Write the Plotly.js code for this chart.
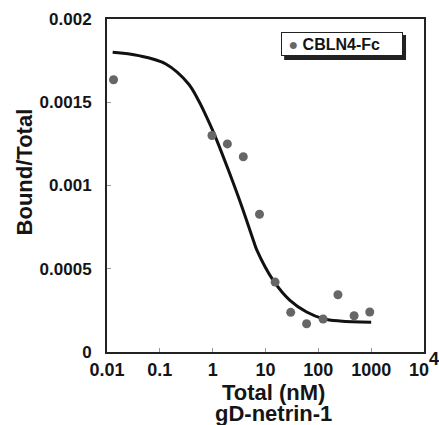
<!DOCTYPE html>
<html>
<head>
<meta charset="utf-8">
<script src="https://cdn.plot.ly/plotly-3.0.1.min.js"></script>
<style>
html,body{margin:0;padding:0;background:#fff;}
#chart{width:439px;height:425px;}
#chart .xtick tspan{font-size:100% !important;}
</style>
</head>
<body>
<div id="chart"></div>
<script>
// Measured points (CBLN4-Fc)
const seriesName = "CBLN4-Fc";
const totalNM = [0.0133, 0.97, 1.9, 3.8, 7.7, 15.2, 30, 60, 123, 235, 475, 940];
const boundOverTotal = [0.001635, 0.00130, 0.00125, 0.001173, 0.000827, 0.00042, 0.000238, 0.00017, 0.000198, 0.000344, 0.000218, 0.00024];

// Fitted curve
const fitX = [0.0128, 0.04, 0.13, 0.35, 0.54, 0.72, 1.1, 2.0, 3.6, 5.9, 6.9, 14, 29, 60, 124, 257, 1000];
const fitY = [0.00180, 0.00178, 0.00173, 0.00161, 0.00151, 0.00143, 0.00130, 0.00109, 0.00087, 0.00067, 0.00061, 0.00043, 0.00031, 0.00024, 0.00020, 0.000186, 0.000178];

// Axis ticks and titles
const xTickVals = [0.01, 0.1, 1, 10, 100, 1000, 10000];
const xTickText = ["0.01", "0.1", "1", "10", "100", "1000", "10<sup>4</sup>"];
const yTickVals = [0, 0.0005, 0.001, 0.0015, 0.002];
const yTickText = ["0", "0.0005", "0.001", "0.0015", "0.002"];
const xTitle = "Total (nM)";
const xSubTitle = "gD-netrin-1";
const yTitle = "Bound/Total";

const FONT = "Liberation Sans, Arial, sans-serif";
const INK = "#151515";

const traces = [
  {
    x: fitX, y: fitY, type: "scatter", mode: "lines",
    line: {color: "#111", width: 3, shape: "spline", smoothing: 1},
    showlegend: false, hoverinfo: "skip"
  },
  {
    x: totalNM, y: boundOverTotal, type: "scatter", mode: "markers",
    name: seriesName, showlegend: false,
    marker: {color: "#666", size: 9}
  }
];

const titleFont = {family: FONT, size: 22, weight: "bold", color: INK};

const layout = {
  width: 439, height: 425,
  margin: {l: 107, r: 15, t: 19, b: 73},
  paper_bgcolor: "#fff", plot_bgcolor: "#fff",
  font: {family: FONT, color: INK, size: 18, weight: "bold"},
  xaxis: {
    type: "log", range: [-2, 4],
    tickvals: xTickVals, ticktext: xTickText,
    ticks: "inside", ticklen: 4, tickwidth: 1, tickcolor: "#999",
    showline: true, mirror: true, linewidth: 2, linecolor: "#222",
    showgrid: false, zeroline: false,
    tickfont: {family: FONT, size: 18, weight: "bold", color: INK},
    automargin: false
  },
  yaxis: {
    range: [0, 0.002],
    tickvals: yTickVals, ticktext: yTickText,
    ticks: "inside", ticklen: 4, tickwidth: 1, tickcolor: "#999",
    showline: true, mirror: true, linewidth: 2, linecolor: "#222",
    showgrid: false, zeroline: false,
    ticklabelstandoff: 10,
    tickfont: {family: FONT, size: 17, weight: "bold", color: INK},
    automargin: false
  },
  showlegend: false,
  annotations: [
    {
      xref: "paper", yref: "paper", x: 0.5493, y: 0.961, xanchor: "left", yanchor: "top",
      text: "&nbsp;<span style=\"color:#666\">●</span>&nbsp;" + seriesName,
      showarrow: false, align: "left",
      width: 116, height: 18, borderpad: 2, borderwidth: 1,
      bordercolor: "#222", bgcolor: "#fff",
      font: {family: FONT, size: 16, weight: "bold", color: INK}
    },
    {
      xref: "paper", yref: "paper", x: 0.5257, y: -0.1231, xanchor: "center", yanchor: "middle",
      text: xTitle, showarrow: false, font: titleFont
    },
    {
      xref: "paper", yref: "paper", x: 0.5257, y: -0.1832, xanchor: "center", yanchor: "middle",
      text: xSubTitle, showarrow: false, font: titleFont
    },
    {
      xref: "paper", yref: "paper", x: -0.2606, y: 0.5405, xanchor: "center", yanchor: "middle",
      text: yTitle, textangle: -90, showarrow: false, font: titleFont
    }
  ],
  shapes: [
    {type: "rect", xref: "paper", yref: "paper", x0: 0.5588, x1: 0.9433, y0: 0.8769, y1: 0.9520,
     fillcolor: "#222", line: {width: 0}, layer: "above"}
  ]
};

Plotly.newPlot("chart", traces, layout, {displayModeBar: false, staticPlot: true});
</script>
</body>
</html>
